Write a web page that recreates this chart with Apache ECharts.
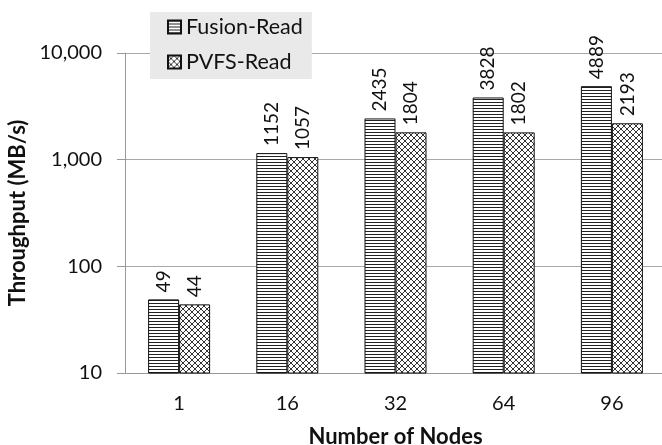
<!DOCTYPE html>
<html><head><meta charset="utf-8">
<script src="https://cdn.jsdelivr.net/npm/echarts@6/dist/echarts.min.js"></script>
<style>html,body{margin:0;padding:0;background:#fff}#c{width:662px;height:445px}</style>
</head><body><div id="c"></div>
<script>
const categories = ['1', '16', '32', '64', '96'];
const fusionRead = [49, 1152, 2435, 3828, 4889];
const pvfsRead = [44, 1057, 1804, 1802, 2193];
const seriesNames = ['Fusion-Read', 'PVFS-Read'];

function hLines() {
  const c = document.createElement('canvas');
  c.width = 4; c.height = 3;
  const g = c.getContext('2d');
  g.fillStyle = '#fff'; g.fillRect(0, 0, 4, 3);
  g.fillStyle = '#222'; g.fillRect(0, 0, 4, 1);
  return c;
}
function cross() {
  const c = document.createElement('canvas');
  c.width = 6; c.height = 6;
  const g = c.getContext('2d');
  g.fillStyle = '#fff'; g.fillRect(0, 0, 6, 6);
  g.strokeStyle = '#333'; g.lineWidth = 1;
  g.beginPath();
  g.moveTo(0, 0); g.lineTo(6, 6);
  g.moveTo(6, 0); g.lineTo(0, 6);
  g.stroke();
  return c;
}
const pat1 = {image: hLines(), repeat: 'repeat'};
const pat2 = {image: cross(), repeat: 'repeat'};
const font = 'Lato, "Open Sans", sans-serif';
const chart = echarts.init(document.getElementById('c'), null, {renderer: 'canvas'});
const lbl = {
  show: true, position: 'top', rotate: 90, align: 'left', verticalAlign: 'middle',
  distance: 7, fontSize: 19, color: '#111', fontFamily: font
};
chart.setOption({
  animation: false,
  backgroundColor: '#fff',
  grid: {left: 125, width: 541, top: 53, height: 320, outerBoundsMode: 'none', containLabel: false},
  legend: {
    orient: 'vertical', left: 150, top: 12, itemWidth: 13, itemHeight: 13, icon: 'rect',
    padding: [4, 9, 6, 17], itemGap: 13, backgroundColor: '#e9e9e9',
    textStyle: {fontSize: 21.5, color: '#111', fontFamily: font},
    data: seriesNames
  },
  xAxis: {
    type: 'category', data: categories,
    name: 'Number of Nodes', nameLocation: 'middle', nameGap: 53,
    nameTextStyle: {fontSize: 22, fontWeight: 'bold', color: '#111', fontFamily: font},
    axisLine: {lineStyle: {color: '#999'}},
    axisTick: {length: 8, lineStyle: {color: '#999'}},
    axisLabel: {fontSize: 20, color: '#111', margin: 21, fontFamily: font}
  },
  yAxis: {
    type: 'log', logBase: 10, min: 10, max: 10000,
    name: 'Throughput (MB/s)', nameLocation: 'middle', nameGap: 87,
    nameTextStyle: {fontSize: 22, fontWeight: 'bold', color: '#111', fontFamily: font},
    axisLine: {show: true, lineStyle: {color: '#999'}},
    axisTick: {show: true, length: 8, lineStyle: {color: '#999'}},
    splitLine: {lineStyle: {color: '#a8a8a8'}},
    minorTick: {show: false},
    axisLabel: {fontSize: 20, color: '#111', margin: 23, fontFamily: font,
      formatter: v => Math.round(v).toLocaleString('en-US')}
  },
  series: [
    {name: seriesNames[0], type: 'bar', data: fusionRead, barWidth: 31, barGap: '0%',
     itemStyle: {color: pat1, borderColor: '#111', borderWidth: 1}, label: lbl},
    {name: seriesNames[1], type: 'bar', data: pvfsRead, barWidth: 31,
     itemStyle: {color: pat2, borderColor: '#111', borderWidth: 1}, label: lbl}
  ]
});
</script></body></html>
